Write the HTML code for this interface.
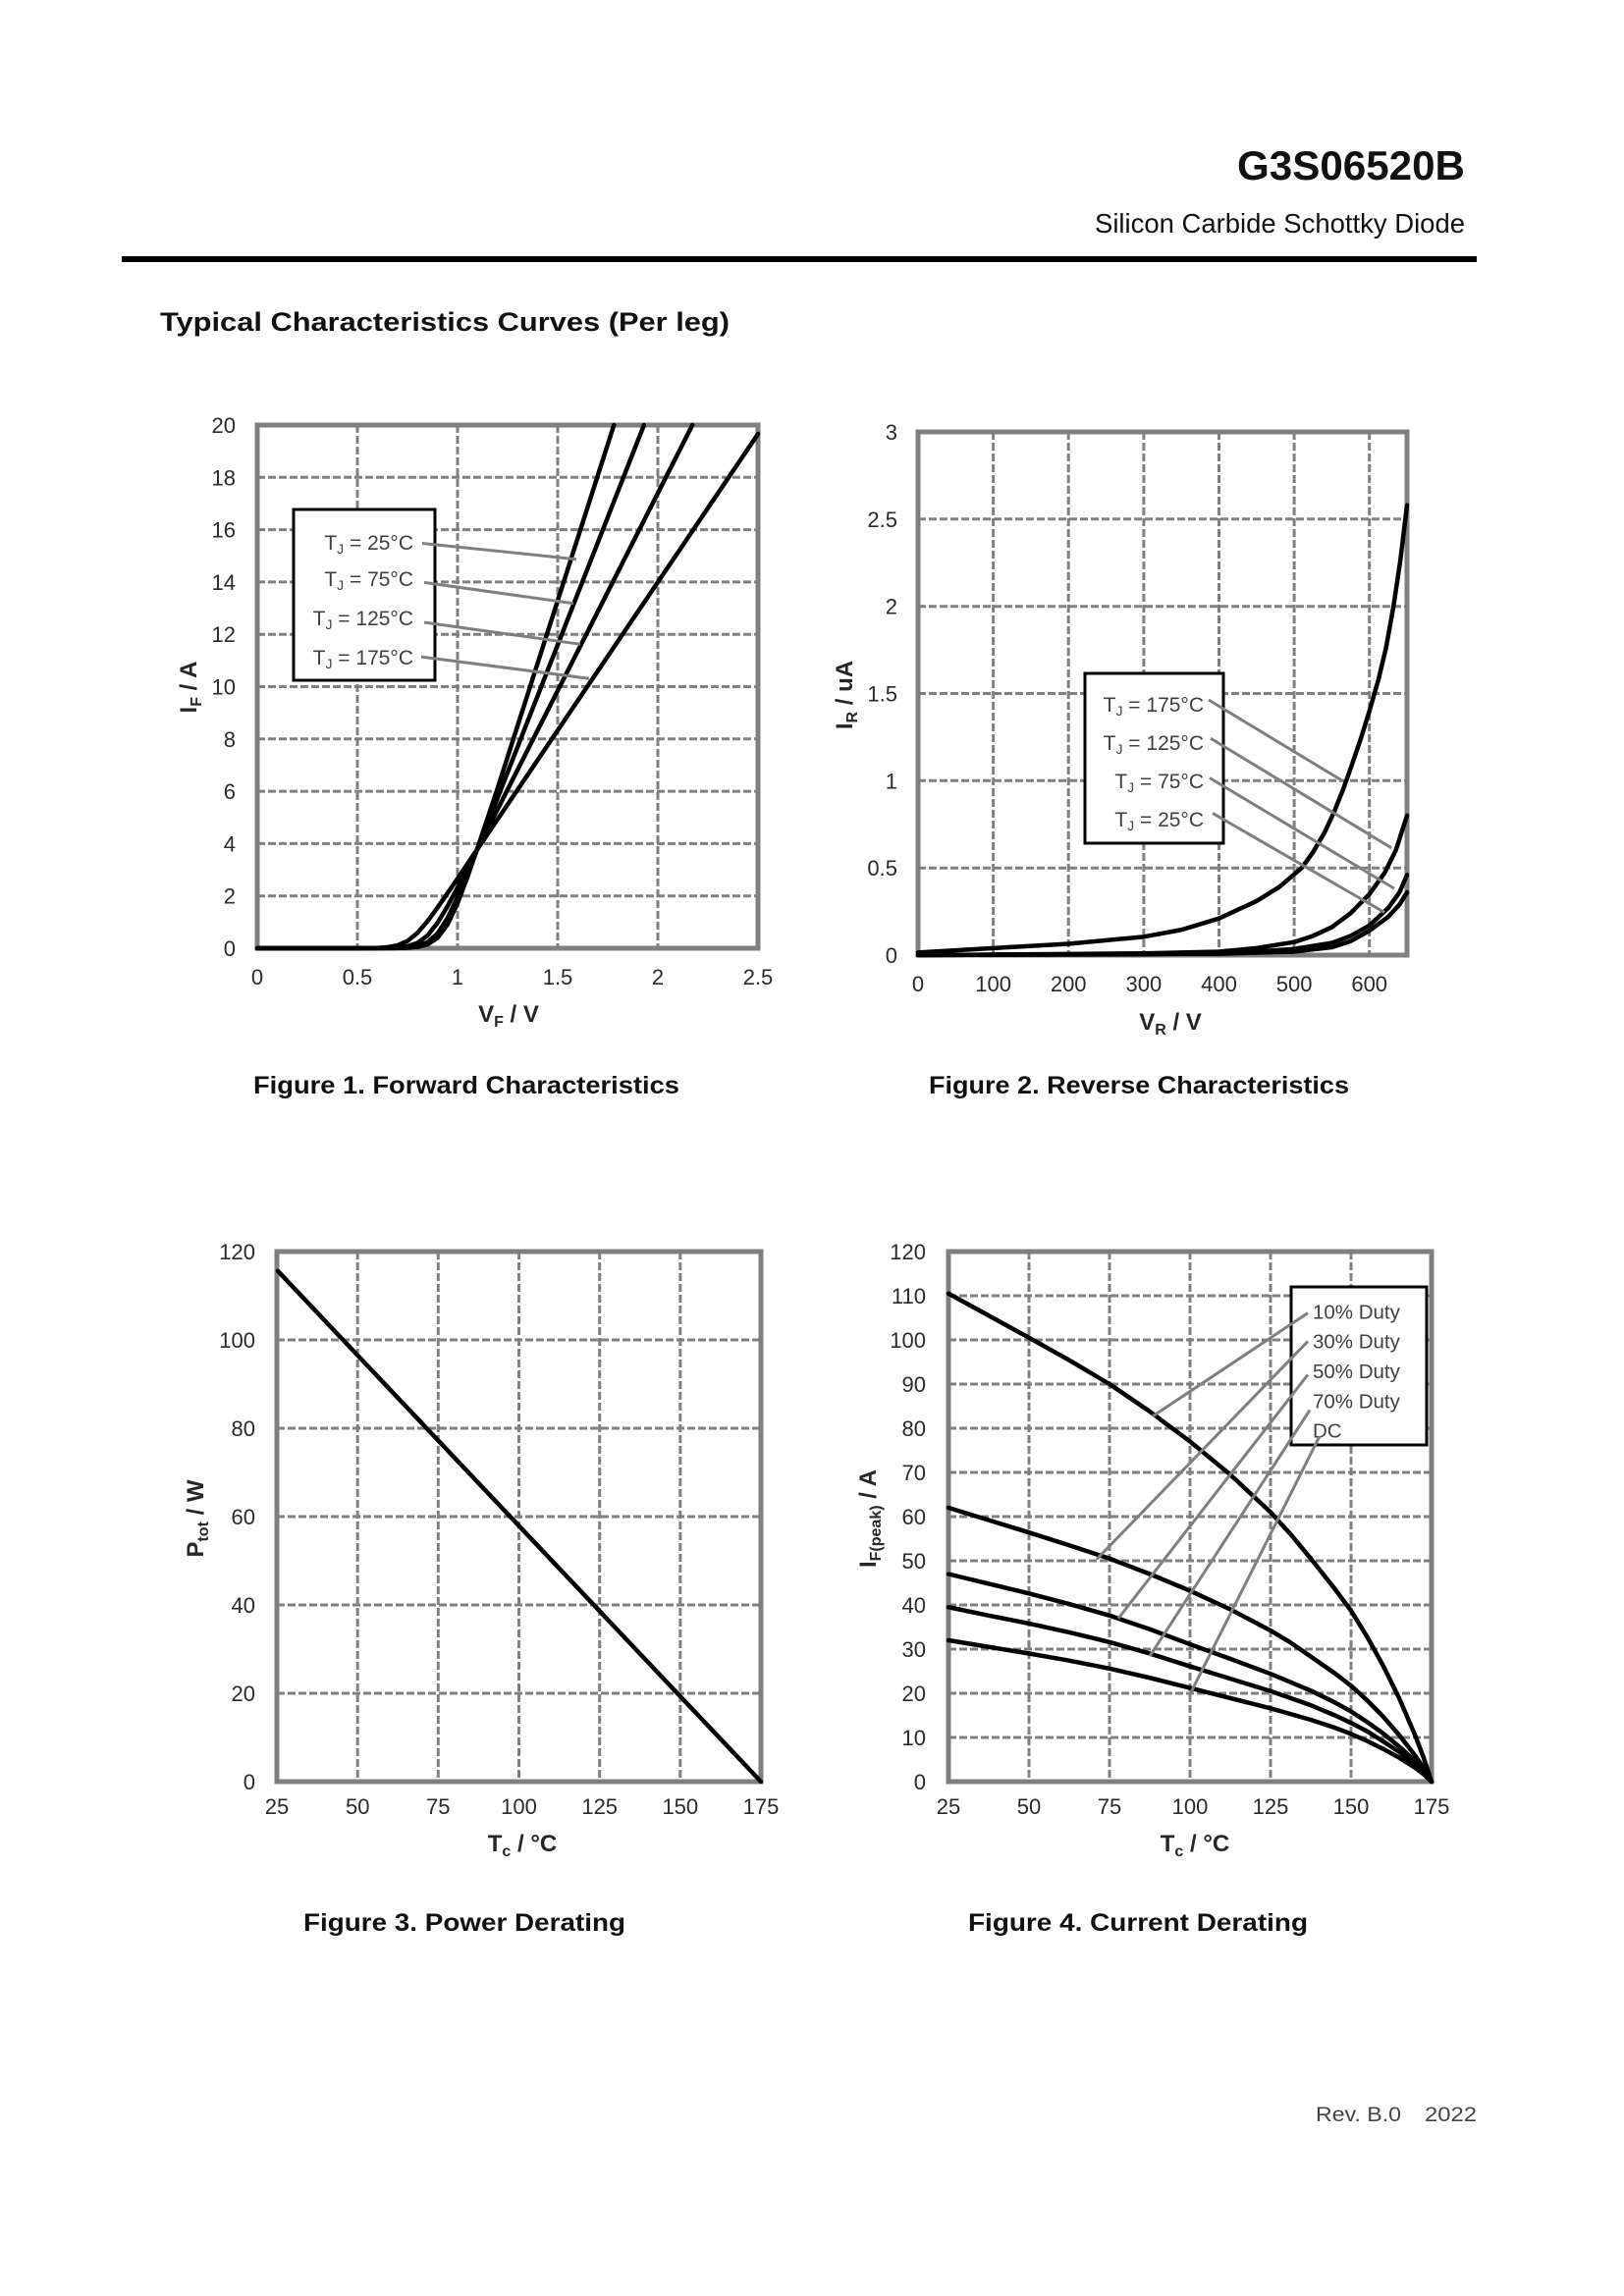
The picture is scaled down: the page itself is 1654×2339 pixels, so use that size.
<!DOCTYPE html>
<html><head><meta charset="utf-8"><style>
html,body{margin:0;padding:0;background:#fff}
svg{display:block}
text{font-family:"Liberation Sans",Arial,sans-serif}
.tk{font-size:22px;fill:#2a2a2a}
.lg{font-size:21px;fill:#404040}
.at{font-size:24px;font-weight:bold;fill:#262626}
.cap{font-size:25px;font-weight:bold;fill:#111}
.grid line{stroke:#808080;stroke-width:3;stroke-dasharray:8 3}
.frame{fill:none;stroke:#7f7f7f;stroke-width:5}
.crv{fill:none;stroke:#000;stroke-width:4.5;stroke-linejoin:round;stroke-linecap:round}
.ld{stroke:#7f7f7f;stroke-width:3}
.box{fill:#fff;stroke:#000;stroke-width:3}
</style></head><body>
<svg width="1654" height="2339" viewBox="0 0 1654 2339" xmlns="http://www.w3.org/2000/svg">
<rect width="1654" height="2339" fill="#fff"/>

<!-- Header -->
<text x="1260" y="183" font-size="42" font-weight="bold" fill="#111" textLength="232" lengthAdjust="spacingAndGlyphs">G3S06520B</text>
<text x="1115" y="237" font-size="27.5" fill="#111" textLength="377" lengthAdjust="spacingAndGlyphs">Silicon Carbide Schottky Diode</text>
<rect x="124" y="261" width="1380" height="6" fill="#000"/>
<text x="163" y="337" font-size="27" font-weight="bold" fill="#111" textLength="580" lengthAdjust="spacingAndGlyphs">Typical Characteristics Curves (Per leg)</text>

<!-- ================= FIGURE 1 ================= -->
<g class="grid">
<line x1="262" y1="912.7" x2="772" y2="912.7"/><line x1="262" y1="859.4" x2="772" y2="859.4"/>
<line x1="262" y1="806.1" x2="772" y2="806.1"/><line x1="262" y1="752.8" x2="772" y2="752.8"/>
<line x1="262" y1="699.5" x2="772" y2="699.5"/><line x1="262" y1="646.2" x2="772" y2="646.2"/>
<line x1="262" y1="592.9" x2="772" y2="592.9"/><line x1="262" y1="539.6" x2="772" y2="539.6"/>
<line x1="262" y1="486.3" x2="772" y2="486.3"/>
<line x1="364" y1="433" x2="364" y2="966"/><line x1="466" y1="433" x2="466" y2="966"/>
<line x1="568" y1="433" x2="568" y2="966"/><line x1="670" y1="433" x2="670" y2="966"/>
</g>
<rect class="frame" x="262" y="433" width="510" height="533"/>
<g class="tk" text-anchor="end">
<text x="240" y="974">0</text><text x="240" y="920.7">2</text><text x="240" y="867.4">4</text>
<text x="240" y="814.1">6</text><text x="240" y="760.8">8</text><text x="240" y="707.5">10</text>
<text x="240" y="654.2">12</text><text x="240" y="600.9">14</text><text x="240" y="547.6">16</text>
<text x="240" y="494.3">18</text><text x="240" y="441">20</text>
</g>
<g class="tk" text-anchor="middle">
<text x="262" y="1003">0</text><text x="364" y="1003">0.5</text><text x="466" y="1003">1</text>
<text x="568" y="1003">1.5</text><text x="670" y="1003">2</text><text x="772" y="1003">2.5</text>
</g>
<text class="at" transform="translate(200,700) rotate(-90)" text-anchor="middle">I<tspan font-size="16" dy="5">F</tspan><tspan dy="-5"> / A</tspan></text>
<text class="at" x="518" y="1041" text-anchor="middle">V<tspan font-size="16" dy="5">F</tspan><tspan dy="-5"> / V</tspan></text>
<g transform="translate(262,966) scale(204,-26.65)">
<polyline class="crv" vector-effect="non-scaling-stroke" points="0,0 0.6,0.0006 0.7,0.0056 0.75,0.017 0.8,0.0505 0.85,0.146 0.9,0.393 0.95,0.908 1.0,1.722 1.05,2.734 1.1,3.837 1.15,4.975 1.2,6.12 1.7808,20"/>
<polyline class="crv" vector-effect="non-scaling-stroke" points="0,0 0.6,0.001 0.7,0.0092 0.75,0.0276 0.8,0.0813 0.85,0.2266 0.9,0.561 0.95,1.152 1.0,1.953 1.05,2.862 1.1,3.814 1.15,4.781 1.2,5.75 1.9306,20"/>
<polyline class="crv" vector-effect="non-scaling-stroke" points="0,0 0.6,0.0028 0.65,0.0083 0.7,0.0249 0.75,0.0729 0.8,0.201 0.85,0.486 0.9,0.971 0.95,1.607 1.0,2.318 1.05,3.058 1.1,3.808 1.15,4.56 2.1725,20"/>
<polyline class="crv" vector-effect="non-scaling-stroke" points="0,0 0.5,0.0014 0.55,0.0043 0.6,0.0129 0.65,0.0381 0.7,0.108 0.75,0.2755 0.8,0.589 0.85,1.035 0.9,1.554 0.95,2.104 1.0,2.665 1.05,3.229 2.5,19.66"/>
</g>
<rect class="box" x="299" y="519" width="144" height="174"/>
<g class="lg" text-anchor="end">
<text x="421" y="560">T<tspan font-size="14" dy="4">J</tspan><tspan dy="-4"> = 25°C</tspan></text>
<text x="421" y="597">T<tspan font-size="14" dy="4">J</tspan><tspan dy="-4"> = 75°C</tspan></text>
<text x="421" y="637">T<tspan font-size="14" dy="4">J</tspan><tspan dy="-4"> = 125°C</tspan></text>
<text x="421" y="677">T<tspan font-size="14" dy="4">J</tspan><tspan dy="-4"> = 175°C</tspan></text>
</g>
<line class="ld" x1="430" y1="553.5" x2="587" y2="569.7"/>
<line class="ld" x1="432" y1="593.4" x2="584" y2="614.7"/>
<line class="ld" x1="432" y1="634" x2="591" y2="656.3"/>
<line class="ld" x1="429" y1="669.1" x2="600" y2="691.2"/>
<text class="cap" x="258" y="1114" textLength="434" lengthAdjust="spacingAndGlyphs">Figure 1. Forward Characteristics</text>

<!-- ================= FIGURE 2 ================= -->
<g class="grid">
<line x1="935" y1="884.2" x2="1433" y2="884.2"/><line x1="935" y1="795.3" x2="1433" y2="795.3"/>
<line x1="935" y1="706.5" x2="1433" y2="706.5"/><line x1="935" y1="617.7" x2="1433" y2="617.7"/>
<line x1="935" y1="528.8" x2="1433" y2="528.8"/>
<line x1="1011.6" y1="440" x2="1011.6" y2="973"/><line x1="1088.2" y1="440" x2="1088.2" y2="973"/>
<line x1="1164.9" y1="440" x2="1164.9" y2="973"/><line x1="1241.5" y1="440" x2="1241.5" y2="973"/>
<line x1="1318.1" y1="440" x2="1318.1" y2="973"/><line x1="1394.7" y1="440" x2="1394.7" y2="973"/>
</g>
<rect class="frame" x="935" y="440" width="498" height="533"/>
<g class="tk" text-anchor="end">
<text x="914" y="981">0</text><text x="914" y="892.2">0.5</text><text x="914" y="803.3">1</text>
<text x="914" y="714.5">1.5</text><text x="914" y="625.7">2</text><text x="914" y="536.8">2.5</text>
<text x="914" y="448">3</text>
</g>
<g class="tk" text-anchor="middle">
<text x="935" y="1010">0</text><text x="1011.6" y="1010">100</text><text x="1088.2" y="1010">200</text>
<text x="1164.9" y="1010">300</text><text x="1241.5" y="1010">400</text><text x="1318.1" y="1010">500</text>
<text x="1394.7" y="1010">600</text>
</g>
<text class="at" transform="translate(868,708) rotate(-90)" text-anchor="middle">I<tspan font-size="16" dy="5">R</tspan><tspan dy="-5"> / uA</tspan></text>
<text class="at" x="1192" y="1049" text-anchor="middle">V<tspan font-size="16" dy="5">R</tspan><tspan dy="-5"> / V</tspan></text>
<g transform="translate(935,973) scale(0.7662,-177.67)">
<polyline class="crv" vector-effect="non-scaling-stroke" points="0,0.015 100,0.04 200,0.065 300,0.105 350,0.145 400,0.21 450,0.31 480,0.39 510,0.5 525,0.59 540,0.70 553,0.82 565,0.95 575,1.07 590,1.26 600,1.40 612,1.58 622,1.76 632,2.0 641,2.26 650,2.58"/>
<polyline class="crv" vector-effect="non-scaling-stroke" points="0,0 100,0.003 200,0.006 300,0.01 400,0.02 450,0.04 500,0.075 525,0.11 550,0.16 575,0.24 600,0.35 620,0.47 635,0.6 650,0.80"/>
<polyline class="crv" vector-effect="non-scaling-stroke" points="0,0 300,0.005 400,0.012 450,0.02 500,0.035 550,0.07 575,0.11 600,0.17 625,0.27 640,0.36 650,0.46"/>
<polyline class="crv" vector-effect="non-scaling-stroke" points="0,0 400,0.008 500,0.02 550,0.045 575,0.08 600,0.14 625,0.22 640,0.29 650,0.36"/>
</g>
<rect class="box" x="1105" y="686" width="141" height="173"/>
<g class="lg" text-anchor="end">
<text x="1226" y="725">T<tspan font-size="14" dy="4">J</tspan><tspan dy="-4"> = 175°C</tspan></text>
<text x="1226" y="764">T<tspan font-size="14" dy="4">J</tspan><tspan dy="-4"> = 125°C</tspan></text>
<text x="1226" y="803">T<tspan font-size="14" dy="4">J</tspan><tspan dy="-4"> = 75°C</tspan></text>
<text x="1226" y="842">T<tspan font-size="14" dy="4">J</tspan><tspan dy="-4"> = 25°C</tspan></text>
</g>
<line class="ld" x1="1231" y1="713" x2="1368" y2="795.9"/>
<line class="ld" x1="1233" y1="752.2" x2="1417" y2="863.7"/>
<line class="ld" x1="1232" y1="792.5" x2="1420" y2="905.1"/>
<line class="ld" x1="1235" y1="828.4" x2="1410" y2="929.5"/>
<text class="cap" x="946" y="1114" textLength="428" lengthAdjust="spacingAndGlyphs">Figure 2. Reverse Characteristics</text>

<!-- ================= FIGURE 3 ================= -->
<g class="grid">
<line x1="282" y1="1725" x2="775" y2="1725"/><line x1="282" y1="1635" x2="775" y2="1635"/>
<line x1="282" y1="1545" x2="775" y2="1545"/><line x1="282" y1="1455" x2="775" y2="1455"/>
<line x1="282" y1="1365" x2="775" y2="1365"/>
<line x1="364.2" y1="1275" x2="364.2" y2="1815"/><line x1="446.3" y1="1275" x2="446.3" y2="1815"/>
<line x1="528.5" y1="1275" x2="528.5" y2="1815"/><line x1="610.7" y1="1275" x2="610.7" y2="1815"/>
<line x1="692.8" y1="1275" x2="692.8" y2="1815"/>
</g>
<rect class="frame" x="282" y="1275" width="493" height="540"/>
<g class="tk" text-anchor="end">
<text x="260" y="1823">0</text><text x="260" y="1733">20</text><text x="260" y="1643">40</text>
<text x="260" y="1553">60</text><text x="260" y="1463">80</text><text x="260" y="1373">100</text>
<text x="260" y="1283">120</text>
</g>
<g class="tk" text-anchor="middle">
<text x="282" y="1848">25</text><text x="364.2" y="1848">50</text><text x="446.3" y="1848">75</text>
<text x="528.5" y="1848">100</text><text x="610.7" y="1848">125</text><text x="692.8" y="1848">150</text>
<text x="775" y="1848">175</text>
</g>
<text class="at" transform="translate(207,1547) rotate(-90)" text-anchor="middle">P<tspan font-size="16" dy="5">tot</tspan><tspan dy="-5"> / W</tspan></text>
<text class="at" x="532" y="1886" text-anchor="middle">T<tspan font-size="16" dy="5">c</tspan><tspan dy="-5"> / °C</tspan></text>
<line class="crv" x1="283" y1="1294.8" x2="775" y2="1815"/>
<text class="cap" x="309" y="1967" textLength="328" lengthAdjust="spacingAndGlyphs">Figure 3. Power Derating</text>

<!-- ================= FIGURE 4 ================= -->
<g class="grid">
<line x1="966" y1="1770" x2="1458" y2="1770"/><line x1="966" y1="1725" x2="1458" y2="1725"/>
<line x1="966" y1="1680" x2="1458" y2="1680"/><line x1="966" y1="1635" x2="1458" y2="1635"/>
<line x1="966" y1="1590" x2="1458" y2="1590"/><line x1="966" y1="1545" x2="1458" y2="1545"/>
<line x1="966" y1="1500" x2="1458" y2="1500"/><line x1="966" y1="1455" x2="1458" y2="1455"/>
<line x1="966" y1="1410" x2="1458" y2="1410"/><line x1="966" y1="1365" x2="1458" y2="1365"/>
<line x1="966" y1="1320" x2="1458" y2="1320"/>
<line x1="1048" y1="1275" x2="1048" y2="1815"/><line x1="1130" y1="1275" x2="1130" y2="1815"/>
<line x1="1212" y1="1275" x2="1212" y2="1815"/><line x1="1294" y1="1275" x2="1294" y2="1815"/>
<line x1="1376" y1="1275" x2="1376" y2="1815"/>
</g>
<rect class="frame" x="966" y="1275" width="492" height="540"/>
<g class="tk" text-anchor="end">
<text x="943" y="1823">0</text><text x="943" y="1778">10</text><text x="943" y="1733">20</text>
<text x="943" y="1688">30</text><text x="943" y="1643">40</text><text x="943" y="1598">50</text>
<text x="943" y="1553">60</text><text x="943" y="1508">70</text><text x="943" y="1463">80</text>
<text x="943" y="1418">90</text><text x="943" y="1373">100</text><text x="943" y="1328">110</text>
<text x="943" y="1283">120</text>
</g>
<g class="tk" text-anchor="middle">
<text x="966" y="1848">25</text><text x="1048" y="1848">50</text><text x="1130" y="1848">75</text>
<text x="1212" y="1848">100</text><text x="1294" y="1848">125</text><text x="1376" y="1848">150</text>
<text x="1458" y="1848">175</text>
</g>
<text class="at" transform="translate(892,1547) rotate(-90)" text-anchor="middle">I<tspan font-size="16" dy="5">F(peak)</tspan><tspan dy="-5"> / A</tspan></text>
<text class="at" x="1217" y="1886" text-anchor="middle">T<tspan font-size="16" dy="5">c</tspan><tspan dy="-5"> / °C</tspan></text>
<g transform="translate(966,1815) scale(3.28,-4.5) translate(-25,0)">
<polyline class="crv" vector-effect="non-scaling-stroke" points="25,110.5 37.5,105.5 50,100.5 62.5,95.4 75,90 87.5,83.8 100,77 112.5,69.5 125,61 131,56.2 137.5,50.5 145,43.6 150,38.7 155,32.8 160,26.2 165,18.8 170,10.3 172.5,5.5 175,0"/>
<polyline class="crv" vector-effect="non-scaling-stroke" points="25,62 37.5,59.2 50,56.4 62.5,53.5 75,50.5 87.5,47 100,43.2 112.5,39 125,34.2 131,31.6 137.5,28.3 145,24.5 150,21.7 155,18.4 160,14.7 165,10.5 170,5.8 172.5,3.1 175,0"/>
<polyline class="crv" vector-effect="non-scaling-stroke" points="25,47 37.5,44.8 50,42.6 62.5,40.2 75,37.6 87.5,34.5 100,31.1 112.5,27.8 125,24.4 137.5,20.6 145,17.9 150,15.9 155,13.5 160,10.9 165,7.9 170,4.6 172.5,2.5 175,0"/>
<polyline class="crv" vector-effect="non-scaling-stroke" points="25,39.5 37.5,37.6 50,35.8 62.5,33.8 75,31.6 87.5,29 100,26.1 112.5,23.3 125,20.5 137.5,17.3 145,15 150,13.3 155,11.4 160,9.1 165,6.7 170,3.8 172.5,2.1 175,0"/>
<polyline class="crv" vector-effect="non-scaling-stroke" points="25,32 37.5,30.5 50,29 62.5,27.4 75,25.6 87.5,23.5 100,21.2 112.5,18.9 125,16.6 137.5,14 145,12.2 150,10.8 155,9.2 160,7.4 165,5.4 170,3.1 172.5,1.7 175,0"/>
</g>
<rect class="box" x="1315" y="1311" width="138" height="161"/>
<g class="lg" style="font-size:20.5px">
<text x="1337" y="1343.6">10% Duty</text>
<text x="1337" y="1373.4">30% Duty</text>
<text x="1337" y="1404">50% Duty</text>
<text x="1337" y="1434.6">70% Duty</text>
<text x="1337" y="1464.3">DC</text>
</g>
<line class="ld" x1="1332" y1="1337.6" x2="1174" y2="1442.8"/>
<line class="ld" x1="1332" y1="1366.4" x2="1117" y2="1588.4"/>
<line class="ld" x1="1332" y1="1400.4" x2="1139" y2="1648.7"/>
<line class="ld" x1="1334" y1="1436.5" x2="1171" y2="1687.2"/>
<line class="ld" x1="1344" y1="1463.1" x2="1212" y2="1725.9"/>
<text class="cap" x="986" y="1967" textLength="346" lengthAdjust="spacingAndGlyphs">Figure 4. Current Derating</text>

<!-- Footer -->
<text x="1340" y="2161" font-size="21" fill="#444" textLength="87" lengthAdjust="spacingAndGlyphs">Rev. B.0</text>
<text x="1451" y="2161" font-size="21" fill="#444" textLength="53" lengthAdjust="spacingAndGlyphs">2022</text>
</svg>
</body></html>
